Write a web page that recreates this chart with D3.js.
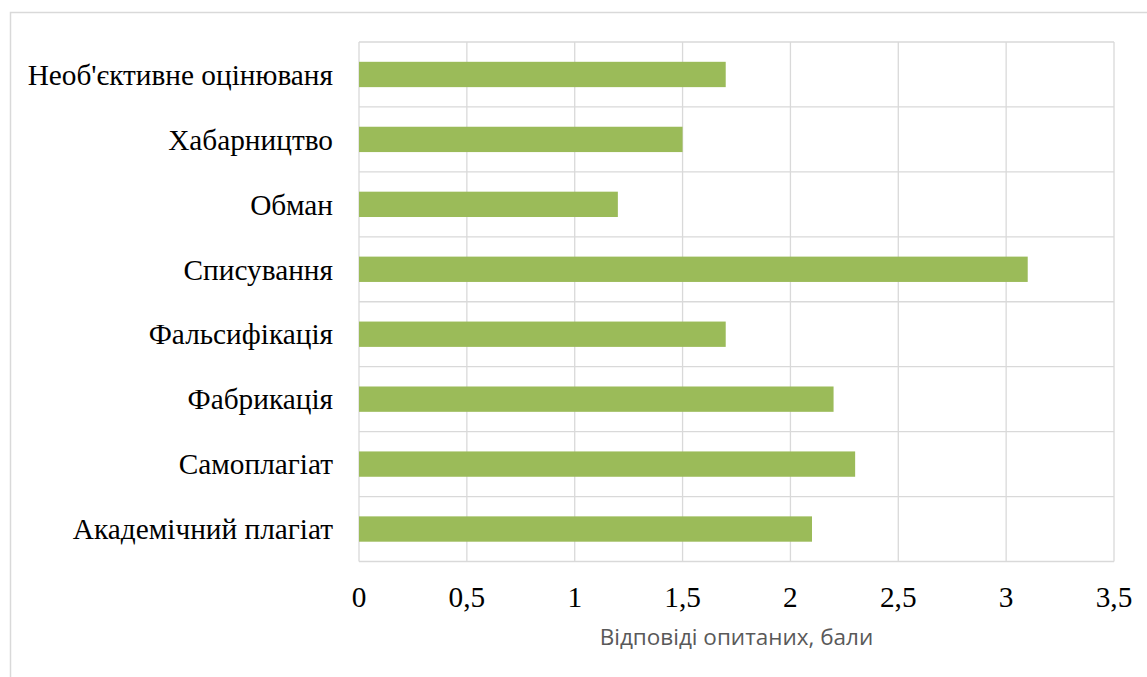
<!DOCTYPE html>
<html>
<head>
<meta charset="utf-8">
<script src="https://cdn.jsdelivr.net/npm/d3@7"></script>
<style>
  html, body { margin: 0; padding: 0; background: #fff; }
  svg { display: block; }
</style>
</head>
<body>
<svg id="chart" width="1147" height="677"></svg>
<script>
const categories = [
  "Необ'єктивне оцінюваня",
  "Хабарництво",
  "Обман",
  "Списування",
  "Фальсифікація",
  "Фабрикація",
  "Самоплагіат",
  "Академічний плагіат"
];
const values = [1.7, 1.5, 1.2, 3.1, 1.7, 2.2, 2.3, 2.1];
const xTicks = [0, 0.5, 1, 1.5, 2, 2.5, 3, 3.5];
const xTickLabels = ["0", "0,5", "1", "1,5", "2", "2,5", "3", "3,5"];
const axisTitle = "Відповіді опитаних, бали";

const svg = d3.select("#chart");
const plot = { left: 359, right: 1114, top: 42, bottom: 561.5 };
const grid = "#D9D9D9";

// outer chart border
svg.append("rect")
  .attr("x", 10.5).attr("y", 12.5)
  .attr("width", 1150).attr("height", 700)
  .attr("fill", "#fff").attr("stroke", grid).attr("stroke-width", 1.5);

const x = d3.scaleLinear().domain([0, 3.5]).range([plot.left, plot.right]);
const y = d3.scaleBand().domain(categories).range([plot.top, plot.bottom])
  .paddingInner(0.61).paddingOuter(0.305);
const yb = d3.scaleBand().domain(categories).range([plot.top, plot.bottom]).padding(0);

// vertical gridlines
svg.append("g").selectAll("line").data(xTicks).join("line")
  .attr("x1", d => x(d)).attr("x2", d => x(d))
  .attr("y1", plot.top).attr("y2", plot.bottom)
  .attr("stroke", grid).attr("stroke-width", 1.3);

// horizontal gridlines at category boundaries
const hLines = categories.map(c => yb(c)).concat([plot.bottom]);
svg.append("g").selectAll("line").data(hLines).join("line")
  .attr("x1", plot.left).attr("x2", plot.right)
  .attr("y1", d => d).attr("y2", d => d)
  .attr("stroke", grid).attr("stroke-width", 1.3);

// bars
svg.append("g").selectAll("rect").data(values).join("rect")
  .attr("x", x(0))
  .attr("y", (d, i) => y(categories[i]))
  .attr("width", d => x(d) - x(0))
  .attr("height", y.bandwidth())
  .attr("fill", "#9BBB59");

// category labels
svg.append("g").selectAll("text").data(categories).join("text")
  .attr("x", 333)
  .attr("y", d => y(d) + y.bandwidth() / 2)
  .attr("dy", "0.35em")
  .attr("text-anchor", "end")
  .attr("font-family", "'Liberation Serif', 'Times New Roman', serif")
  .attr("font-size", 29.3)
  .attr("fill", "#000")
  .text(d => d);

// x tick labels
svg.append("g").selectAll("text").data(xTicks).join("text")
  .attr("x", d => x(d))
  .attr("y", 607)
  .attr("text-anchor", "middle")
  .attr("font-family", "'Liberation Serif', 'Times New Roman', serif")
  .attr("font-size", 29.3)
  .attr("fill", "#000")
  .text((d, i) => xTickLabels[i]);

// axis title
svg.append("text")
  .attr("x", (plot.left + plot.right) / 2)
  .attr("y", 645)
  .attr("text-anchor", "middle")
  .attr("font-family", "'Open Sans', 'Noto Sans', sans-serif")
  .attr("font-size", 22.5)
  .attr("fill", "#595959")
  .text(axisTitle);
</script>
</body>
</html>
